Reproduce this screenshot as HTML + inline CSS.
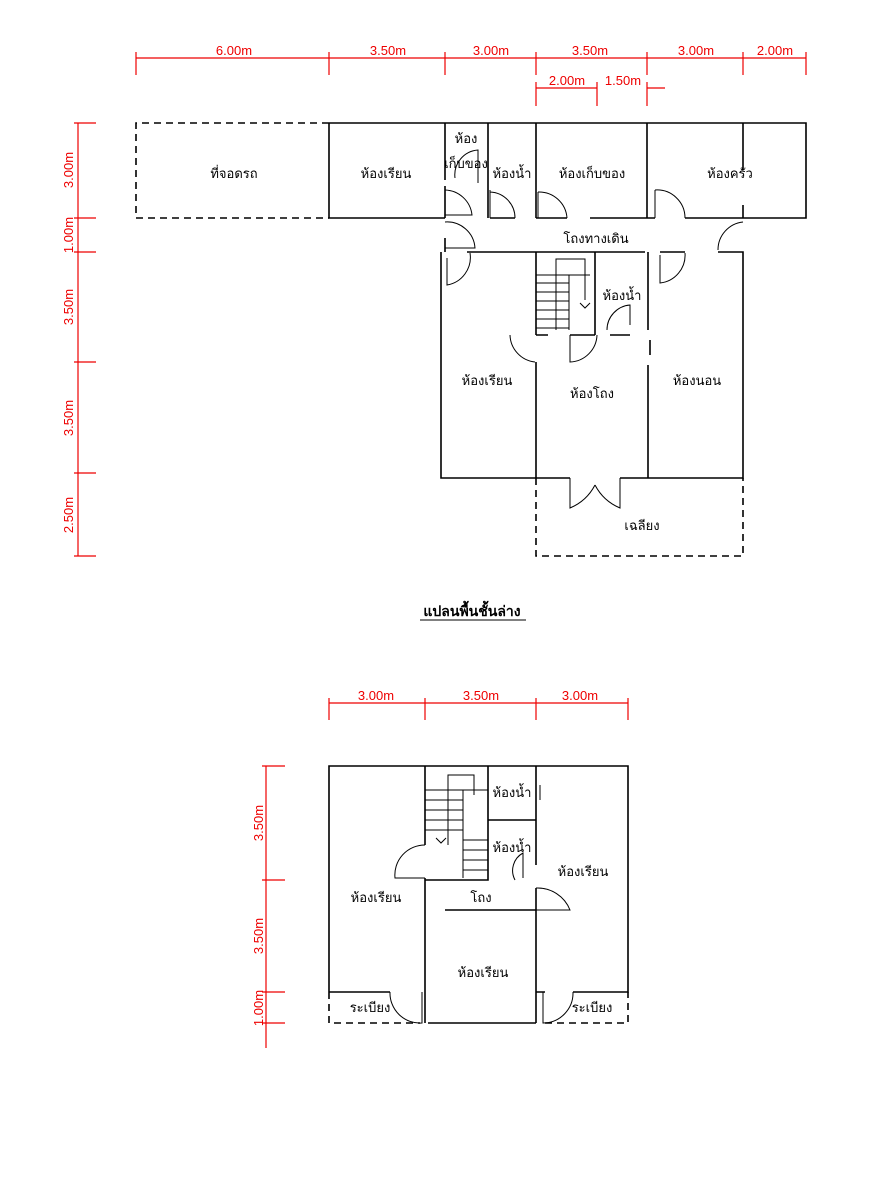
<!DOCTYPE html>
<html><head><meta charset="utf-8"><style>
body{margin:0;background:#fff}
svg{display:block}
.w{stroke:#000;stroke-width:1.6;fill:none}
.d{stroke:#000;stroke-width:1.6;fill:none;stroke-dasharray:7,5}
.a{stroke:#000;stroke-width:1;fill:none}
.r{stroke:#e00;stroke-width:1.2;fill:none}
.rt{fill:#e00;font-family:"Liberation Sans",sans-serif;font-size:13px}
.t{font-family:"Liberation Sans","Noto Sans CJK SC",sans-serif;font-size:13px;fill:#000;text-anchor:middle}
</style></head><body>
<svg width="883" height="1200" viewBox="0 0 883 1200">
<line class="r" x1="136" y1="58" x2="806" y2="58"/>
<g class="r"><line x1="136" y1="52" x2="136" y2="75"/><line x1="329" y1="52" x2="329" y2="75"/><line x1="445" y1="52" x2="445" y2="75"/><line x1="536" y1="52" x2="536" y2="75"/><line x1="647" y1="52" x2="647" y2="75"/><line x1="743" y1="52" x2="743" y2="75"/><line x1="806" y1="52" x2="806" y2="75"/></g>
<g class="rt" text-anchor="middle"><text x="234" y="55">6.00m</text><text x="388" y="55">3.50m</text><text x="491" y="55">3.00m</text><text x="590" y="55">3.50m</text><text x="696" y="55">3.00m</text><text x="775" y="55">2.00m</text>
<text x="567" y="85">2.00m</text><text x="623" y="85">1.50m</text></g>
<line class="r" x1="536" y1="88" x2="597" y2="88"/><line class="r" x1="647" y1="88" x2="665" y2="88"/>
<g class="r"><line x1="536" y1="82" x2="536" y2="106"/><line x1="597" y1="82" x2="597" y2="106"/><line x1="647" y1="82" x2="647" y2="106"/></g>
<line class="r" x1="78" y1="123" x2="78" y2="556"/>
<g class="r"><line x1="74" y1="123" x2="96" y2="123"/><line x1="74" y1="218" x2="96" y2="218"/><line x1="74" y1="252" x2="96" y2="252"/><line x1="74" y1="362" x2="96" y2="362"/><line x1="74" y1="473" x2="96" y2="473"/><line x1="74" y1="556" x2="96" y2="556"/></g>
<g class="rt" text-anchor="middle"><text transform="translate(73,170) rotate(-90)">3.00m</text><text transform="translate(73,235) rotate(-90)">1.00m</text><text transform="translate(73,307) rotate(-90)">3.50m</text><text transform="translate(73,418) rotate(-90)">3.50m</text><text transform="translate(73,515) rotate(-90)">2.50m</text></g>
<path class="d" d="M329 123 H136 V218 H329"/>
<path class="w" d="M329 123 H806 V218 H685 M655 218 H590 M567 218 H536 M515 218 H490 M329 123 V218 H445 M445 123 V180 M488 123 V218 M536 123 V218 M647 123 V218 M743 123 V170 M743 205 V218 M806 218 H743"/>
<path class="w" d="M445 186 V218 M445 238 V252 M441 252 V478 H570 M620 478 H743 V252 H718 M685 252 H660 M648 252 V330 M650 340 V355 M467 252 H645 M536 252 V335 M595 252 V335 M536 335 H548 M570 335 H595 M610 335 H630"/>
<path class="w" d="M536 362 V478 M648 365 V478"/>
<path class="d" d="M536 478 V556 H743 V478"/>
<path class="a" d="M445 190 A28 28 0 0 1 472 215 H445 M445 222 A28 28 0 0 1 475 248 H445 M447 258 V285 A28 28 0 0 0 470 253 M490 190 V218 M490 192 A26 26 0 0 1 515 218 M538 192 V218 M538 192 A28 28 0 0 1 567 218 M655 190 V218 M655 190 A28 28 0 0 1 685 218 M718 250 A28 28 0 0 1 743 222 M660 255 V283 A28 28 0 0 0 685 253 M478 183 V150 A25 25 0 0 0 455 178 M510 335 A28 28 0 0 0 535 362 M570 335 V362 A28 28 0 0 0 597 335 M630 325 V305 A25 25 0 0 0 607 330 M570 478 V508 A50 50 0 0 0 595 485 M620 478 V508 A50 50 0 0 1 595 485"/>
<g class="a"><path d="M556 330 V259 H585 V300 M569 330 V275"/><line x1="536" y1="275" x2="590" y2="275"/><line x1="536" y1="283" x2="569" y2="283"/><line x1="536" y1="292" x2="569" y2="292"/><line x1="536" y1="301" x2="569" y2="301"/><line x1="536" y1="310" x2="569" y2="310"/><line x1="536" y1="319" x2="569" y2="319"/><line x1="536" y1="328" x2="569" y2="328"/><path d="M580 303 L585 308 L590 303"/></g>
<g class="t"><text x="234" y="178">ที่จอดรถ</text><text x="386" y="178">ห้องเรียน</text><text x="466" y="143">ห้อง</text><text x="466" y="168">เก็บของ</text><text x="512" y="178">ห้องน้ำ</text><text x="592" y="178">ห้องเก็บของ</text><text x="730" y="178">ห้องครัว</text><text x="596" y="243">โถงทางเดิน</text><text x="622" y="300">ห้องน้ำ</text><text x="487" y="385">ห้องเรียน</text><text x="592" y="398">ห้องโถง</text><text x="697" y="385">ห้องนอน</text><text x="642" y="530">เฉลียง</text></g>
<text x="472" y="616" class="t" style="font-weight:bold;font-size:14px">แปลนพื้นชั้นล่าง</text>
<line x1="420" y1="620" x2="526" y2="620" stroke="#000" stroke-width="1"/>
<line class="r" x1="329" y1="703" x2="628" y2="703"/>
<g class="r"><line x1="329" y1="698" x2="329" y2="720"/><line x1="425" y1="698" x2="425" y2="720"/><line x1="536" y1="698" x2="536" y2="720"/><line x1="628" y1="698" x2="628" y2="720"/></g>
<g class="rt" text-anchor="middle"><text x="376" y="700">3.00m</text><text x="481" y="700">3.50m</text><text x="580" y="700">3.00m</text></g>
<line class="r" x1="266" y1="766" x2="266" y2="1048"/>
<g class="r"><line x1="262" y1="766" x2="285" y2="766"/><line x1="262" y1="880" x2="285" y2="880"/><line x1="262" y1="992" x2="285" y2="992"/><line x1="262" y1="1023" x2="285" y2="1023"/></g>
<g class="rt" text-anchor="middle"><text transform="translate(263,823) rotate(-90)">3.50m</text><text transform="translate(263,936) rotate(-90)">3.50m</text><text transform="translate(263,1008) rotate(-90)">1.00m</text></g>
<path class="w" d="M329 992 V766 H628 V992 H573 M545 992 H536 M329 992 H390 M425 766 V845 M425 878 V1023 M488 766 V880 H425 M536 766 V865 M488 820 V880 M488 820 H536 M536 888 V1023 M445 910 H536 M428 1023 H536"/>
<path class="d" d="M329 992 V1023 H420 M545 1023 H628 V992"/>
<path class="a" d="M425 845 A30 30 0 0 0 395 878 H425 M536 888 A35 35 0 0 1 570 910 H536 M515 880 A20 20 0 0 1 523 853 V878 M390 992 A30 30 0 0 0 422 1023 V992 M573 992 A30 30 0 0 1 543 1023 V992 M540 785 V800"/>
<g class="a"><path d="M448 845 V775 H474 V795 M463 878 V790"/><line x1="425" y1="790" x2="488" y2="790"/><line x1="425" y1="800" x2="463" y2="800"/><line x1="425" y1="810" x2="463" y2="810"/><line x1="425" y1="820" x2="463" y2="820"/><line x1="425" y1="830" x2="463" y2="830"/><line x1="463" y1="840" x2="488" y2="840"/><line x1="463" y1="850" x2="488" y2="850"/><line x1="463" y1="860" x2="488" y2="860"/><line x1="463" y1="870" x2="488" y2="870"/><path d="M436 838 L441 843 L446 838"/></g>
<g class="t"><text x="512" y="797">ห้องน้ำ</text><text x="512" y="852">ห้องน้ำ</text><text x="376" y="902">ห้องเรียน</text><text x="481" y="902">โถง</text><text x="583" y="876">ห้องเรียน</text><text x="483" y="977">ห้องเรียน</text><text x="370" y="1012">ระเบียง</text><text x="592" y="1012">ระเบียง</text></g>
</svg>
</body></html>
